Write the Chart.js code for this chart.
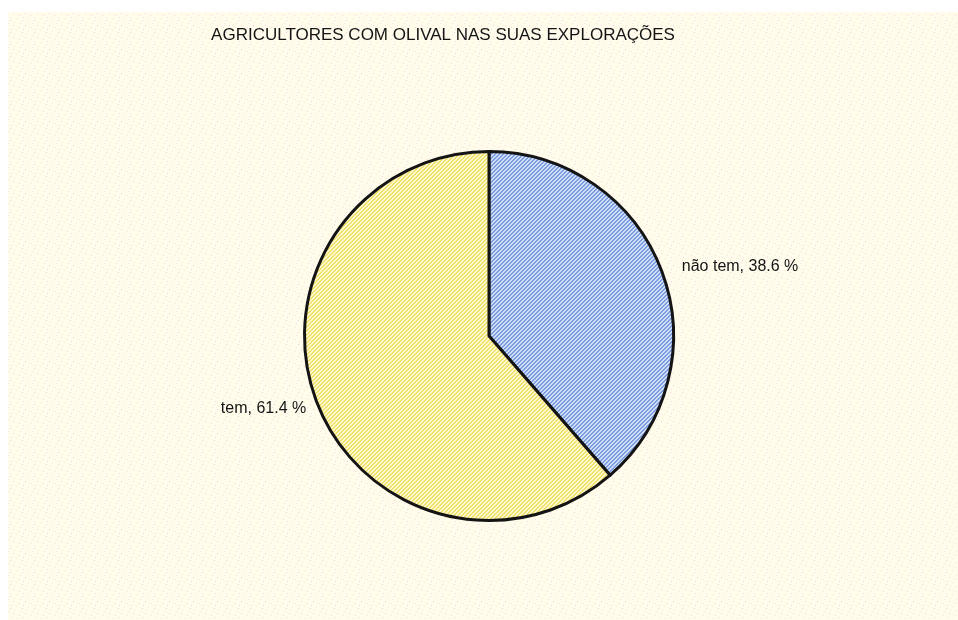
<!DOCTYPE html>
<html>
<head>
<meta charset="utf-8">
<script src="https://cdn.jsdelivr.net/npm/chart.js@4"></script>
<style>
  html, body { margin: 0; padding: 0; background: #ffffff; }
  #wrap { width: 958px; height: 620px; position: relative; }
</style>
</head>
<body>
<div id="wrap"><canvas id="c" width="958" height="620"></canvas></div>
<script>
// Survey result: farmers with olive groves on their holdings
const chartTitle = 'AGRICULTORES COM OLIVAL NAS SUAS EXPLORAÇÕES';
const categories = ['não tem', 'tem'];
const shares = [38.6, 61.4];

// Diagonal hatch fills for the slices
function hatch(light, dark) {
  const p = document.createElement('canvas');
  p.width = 4; p.height = 4;
  const g = p.getContext('2d');
  g.fillStyle = light; g.fillRect(0, 0, 4, 4);
  g.fillStyle = dark;
  for (let y = 0; y < 4; y++) {
    for (let x = 0; x < 4; x++) {
      if ((x + y) % 4 === 0 || (x + y) % 4 === 1) g.fillRect(x, y, 1, 1);
    }
  }
  return p;
}

// Speckled cream paper texture
function paper() {
  const p = document.createElement('canvas');
  p.width = 12; p.height = 12;
  const g = p.getContext('2d');
  g.fillStyle = '#fffcec'; g.fillRect(0, 0, 12, 12);
  const specks = [[1,1,'#f6cfe0'],[7,3,'#f9dbe6'],[4,6,'#f6edc0'],[10,8,'#f5cde0'],[2,10,'#f8eac8'],[8,11,'#f9dde8'],[5,2,'#fbf1d0'],[11,5,'#f7d6e4']];
  for (const [x, y, c] of specks) { g.fillStyle = c; g.fillRect(x, y, 1, 1); }
  return p;
}

const ctx0 = document.getElementById('c').getContext('2d');
const bluePat = ctx0.createPattern(hatch('#d0def7', '#7c9de0'), 'repeat');
const yellowPat = ctx0.createPattern(hatch('#fff9cc', '#f1e170'), 'repeat');
const paperPat = ctx0.createPattern(paper(), 'repeat');

const backdrop = {
  id: 'backdrop',
  beforeDraw(chart) {
    const c = chart.ctx;
    c.save();
    c.fillStyle = '#ffffff';
    c.fillRect(0, 0, chart.width, chart.height);
    c.fillStyle = paperPat;
    c.fillRect(8, 12, chart.width - 8, chart.height - 12);
    c.restore();
  }
};

const annotate = {
  id: 'annotate',
  afterDraw(chart) {
    const c = chart.ctx;
    c.save();
    c.fillStyle = '#141414';
    c.font = '17px "Liberation Sans", Arial, sans-serif';
    c.textAlign = 'center';
    c.textBaseline = 'middle';
    c.fillText(chartTitle, 443, 35);

    c.font = '16px "Liberation Sans", Arial, sans-serif';
    const arcs = chart.getDatasetMeta(0).data;
    arcs.forEach((arc, i) => {
      const mid = (arc.startAngle + arc.endAngle) / 2;
      const r = arc.outerRadius;
      const px = arc.x + Math.cos(mid) * r;
      const py = arc.y + Math.sin(mid) * r;
      const right = Math.cos(mid) >= 0;
      const text = categories[i] + ', ' + shares[i].toFixed(1) + ' %';
      c.textAlign = right ? 'left' : 'right';
      c.fillText(text, right ? px + 20 : px - 10, right ? py - 5 : py + 8);
    });
    c.restore();
  }
};

new Chart(ctx0, {
  type: 'pie',
  data: {
    labels: categories,
    datasets: [{
      data: shares,
      backgroundColor: [bluePat, yellowPat],
      borderColor: '#141414',
      borderWidth: 3,
      borderJoinStyle: 'miter'
    }]
  },
  options: {
    responsive: false,
    animation: false,
    layout: { padding: { top: 150, bottom: 98, left: 303, right: 283 } },
    plugins: {
      legend: { display: false },
      tooltip: { enabled: false },
      title: { display: false }
    }
  },
  plugins: [backdrop, annotate]
});
</script>
</body>
</html>
